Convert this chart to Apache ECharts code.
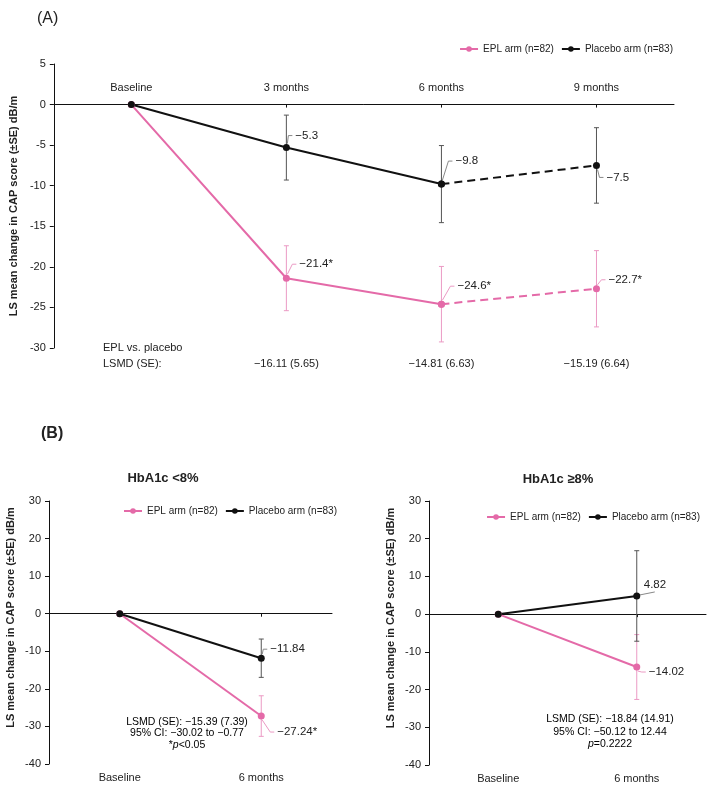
<!DOCTYPE html>
<html>
<head>
<meta charset="utf-8">
<script src="https://cdn.jsdelivr.net/npm/echarts@6/dist/echarts.min.js"></script>
<style>
  html, body { margin: 0; padding: 0; background: #fff; }
  #chart { width: 709px; height: 785px; }
</style>
</head>
<body>
<div id="chart"></div>
<script>
// ---- data (A) ----
const categoriesA = ['Baseline', '3 months', '6 months', '9 months']
const eplA = [0, -21.4, -24.6, -22.7]
const eplSeA = [null, 4.0, 4.65, 4.7]
const eplLabelsA = [null, '\u221221.4*', '\u221224.6*', '\u221222.7*']
const placeboA = [0, -5.3, -9.8, -7.5]
const placeboSeA = [null, 4.0, 4.75, 4.65]
const placeboLabelsA = [null, '\u22125.3', '\u22129.8', '\u22127.5']
const lsmdA = [null, '\u221216.11 (5.65)', '\u221214.81 (6.63)', '\u221215.19 (6.64)']
const dashedFrom = 2 // 6 -> 9 months drawn dashed

// ---- data (B) ----
const categoriesB = ['Baseline', '6 months']
const eplLow = [0, -27.24]
const eplSeLow = [null, 5.4]
const eplLabelsLow = [null, '\u221227.24*']
const placeboLow = [0, -11.84]
const placeboSeLow = [null, 5.1]
const placeboLabelsLow = [null, '\u221211.84']
const eplHigh = [0, -14.02]
const eplSeHigh = [null, 8.6]
const eplLabelsHigh = [null, '\u221214.02']
const placeboHigh = [0, 4.82]
const placeboSeHigh = [null, 12.0]
const placeboLabelsHigh = [null, '4.82']

const EPL = 'EPL arm (n=82)'
const PLACEBO = 'Placebo arm (n=83)'
const PINK = '#e46aa8'
const PINK_LIGHT = '#eb9ac4'
const BLACK = '#111'
const FONT = 'Liberation Sans, Arial, sans-serif'
const yName = 'LS mean change in CAP score (\u00b1SE) dB/m'

// label offsets (style only)
const offA = { epl: [null, [13, -14], [16, -18], [12, -9]], placebo: [null, [9, -12], [14, -23], [10, 12]] }
const offLow = { epl: [null, [16, 16]], placebo: [null, [9, -9]] }
const offHigh = { epl: [null, [12, 5]], placebo: [null, [7, -11]] }

const chart = echarts.init(document.getElementById('chart'))

function errorBars(color, leaderColor, labels, offs) {
  return function (params, api) {
    const i = api.value(0), m = api.value(1), se = api.value(2)
    const p = api.coord([i, m])
    const hi = api.coord([i, m + se])
    const lo = api.coord([i, m - se])
    const dx = offs[i][0], dy = offs[i][1]
    const sy = dy < 0 ? -1 : 1
    const bar = { stroke: color, lineWidth: 1 }
    // short leader lines; when the label sits right above the point, run it under the text
    const pts = dx < 8
      ? [[p[0] + 3, p[1] - 1], [p[0] + dx + 11, p[1] + dy + 7]]
      : [[p[0] + 1, p[1] + sy * 4], [p[0] + dx - 7, p[1] + dy], [p[0] + dx - 3, p[1] + dy]]
    return {
      type: 'group',
      children: [
        { type: 'line', shape: { x1: p[0], y1: hi[1], x2: p[0], y2: lo[1] }, style: bar },
        { type: 'line', shape: { x1: p[0] - 2.5, y1: hi[1], x2: p[0] + 2.5, y2: hi[1] }, style: bar },
        { type: 'line', shape: { x1: p[0] - 2.5, y1: lo[1], x2: p[0] + 2.5, y2: lo[1] }, style: bar },
        { type: 'polyline', shape: { points: pts }, style: { stroke: leaderColor, lineWidth: 1, fill: null } },
        {
          type: 'text', x: p[0] + dx, y: p[1] + dy,
          style: { text: labels[i], fill: '#222', fontSize: 11.5, fontFamily: FONT, align: 'left', verticalAlign: 'middle' }
        }
      ]
    }
  }
}

function errData(vals, ses) {
  return vals.map((v, i) => [i, v, ses[i]]).filter(d => d[2] != null)
}

function lineSeries(name, color, data, xi, yi, dashed) {
  return {
    name, type: 'line', xAxisIndex: xi, yAxisIndex: yi, data,
    symbol: 'circle', symbolSize: 7, showSymbol: true,
    lineStyle: { color, width: 2, type: dashed ? [8, 5] : 'solid' },
    itemStyle: { color },
    emphasis: { disabled: true }, z: 3
  }
}

function customSeries(name, xi, yi, data, render) {
  return { name, type: 'custom', xAxisIndex: xi, yAxisIndex: yi, data, renderItem: render, clip: false, z: 2, silent: true }
}

const axisLine = { show: true, lineStyle: { color: BLACK, width: 1 } }
const tickLabel = { color: '#222', fontSize: 11, fontFamily: FONT }

function yAxis(grid, min, max, interval, shift) {
  return {
    type: 'value', gridIndex: grid, min, max, interval,
    axisLine, axisTick: { show: true, length: 4, lineStyle: { color: BLACK } },
    axisLabel: Object.assign({ margin: 8 }, tickLabel),
    splitLine: { show: false },
    name: yName, nameLocation: 'middle', nameGap: 33,
    nameTextStyle: { fontSize: 11, fontWeight: 'bold', fontFamily: FONT, color: '#222', padding: [0, 0, 0, shift] }
  }
}

// axis line drawn on y = 0, labels carried by a twin axis without a line
function zeroAxis(grid, cats) {
  return {
    type: 'category', gridIndex: grid, data: cats, position: 'bottom',
    axisLine: Object.assign({ onZero: true }, axisLine),
    axisTick: { show: true, alignWithLabel: true, length: 3, lineStyle: { color: BLACK } },
    axisLabel: { show: false }
  }
}
function labelAxis(grid, cats, position, margin, inside) {
  return {
    type: 'category', gridIndex: grid, data: cats, position,
    axisLine: { show: false, onZero: false }, axisTick: { show: false },
    axisLabel: Object.assign({ margin, inside }, tickLabel)
  }
}

const legendBase = {
  data: [EPL, PLACEBO], itemWidth: 18, itemHeight: 7, itemGap: 7,
  textStyle: { fontSize: 10, fontFamily: FONT, color: '#222' }, selectedMode: false
}

const option = {
  animation: false,
  backgroundColor: '#fff',
  title: [
    { text: '(A)', left: 32, top: 6, textStyle: { fontSize: 16, fontWeight: 'normal', fontFamily: FONT, color: '#222' } },
    { text: '(B)', left: 36, top: 421, textStyle: { fontSize: 16, fontWeight: 'bold', fontFamily: FONT, color: '#222' } },
    { text: 'HbA1c <8%', left: 158, textAlign: 'center', top: 467, textStyle: { fontSize: 13, fontWeight: 'bold', fontFamily: FONT, color: '#222' } },
    { text: 'HbA1c \u22658%', left: 553, textAlign: 'center', top: 468, textStyle: { fontSize: 13, fontWeight: 'bold', fontFamily: FONT, color: '#222' } }
  ],
  legend: [
    Object.assign({ right: 31, top: 39 }, legendBase),
    Object.assign({ left: 118, top: 501 }, legendBase),
    Object.assign({ right: 4, top: 507 }, legendBase)
  ],
  grid: [
    { left: 50, top: 64, width: 624, height: 284 },
    { left: 49, top: 501, width: 283, height: 263 },
    { left: 429, top: 501, width: 277, height: 264 }
  ],
  xAxis: [
    zeroAxis(0, categoriesA),
    labelAxis(0, categoriesA, 'top', 18, true),
    zeroAxis(1, categoriesB),
    labelAxis(1, categoriesB, 'bottom', 8, false),
    zeroAxis(2, categoriesB),
    labelAxis(2, categoriesB, 'bottom', 8, false)
  ],
  yAxis: [yAxis(0, -30, 5, 5, 0), yAxis(1, -40, 30, 10, 30), yAxis(2, -40, 30, 10, 30)],
  graphic: [
    { type: 'text', left: 103, top: 342, style: { text: 'EPL vs. placebo', fontSize: 11, fontFamily: FONT, fill: '#222' } },
    { type: 'text', left: 103, top: 358, style: { text: 'LSMD (SE):', fontSize: 11, fontFamily: FONT, fill: '#222' } },
    {
      type: 'text', x: 187, y: 716,
      style: {
        text: '{n|LSMD (SE): \u221215.39 (7.39)}\n{n|95% CI: \u221230.02 to \u22120.77}\n{n|*}{i|p}{n|<0.05}',
        align: 'center', verticalAlign: 'top', lineHeight: 11.5,
        rich: {
          n: { fontSize: 10.5, fontFamily: FONT, color: '#222', lineHeight: 11.5 },
          i: { fontSize: 10.5, fontFamily: FONT, color: '#222', fontStyle: 'italic', lineHeight: 11.5 }
        }
      }
    },
    {
      type: 'text', x: 610, y: 713,
      style: {
        text: '{n|LSMD (SE): \u221218.84 (14.91)}\n{n|95% CI: \u221250.12 to 12.44}\n{i|p}{n|=0.2222}',
        align: 'center', verticalAlign: 'top', lineHeight: 12.5,
        rich: {
          n: { fontSize: 10.5, fontFamily: FONT, color: '#222', lineHeight: 12.5 },
          i: { fontSize: 10.5, fontFamily: FONT, color: '#222', fontStyle: 'italic', lineHeight: 12.5 }
        }
      }
    }
  ],
  series: [
    // (A)
    lineSeries(EPL, PINK, eplA.map((v, i) => (i <= dashedFrom ? v : null)), 0, 0, false),
    lineSeries(EPL, PINK, eplA.map((v, i) => (i >= dashedFrom ? v : null)), 0, 0, true),
    lineSeries(PLACEBO, BLACK, placeboA.map((v, i) => (i <= dashedFrom ? v : null)), 0, 0, false),
    lineSeries(PLACEBO, BLACK, placeboA.map((v, i) => (i >= dashedFrom ? v : null)), 0, 0, true),
    customSeries('epl-err-a', 0, 0, errData(eplA, eplSeA), errorBars(PINK_LIGHT, PINK_LIGHT, eplLabelsA, offA.epl)),
    customSeries('pla-err-a', 0, 0, errData(placeboA, placeboSeA), errorBars('#555', '#888', placeboLabelsA, offA.placebo)),
    customSeries('lsmd-a', 0, 0, lsmdA.map((t, i) => [i, -30]).filter((d, i) => lsmdA[i] != null), function (params, api) {
      const i = api.value(0)
      const p = api.coord([i, -30])
      return {
        type: 'text', x: p[0], y: p[1] + 16,
        style: { text: lsmdA[i], fontSize: 11, fontFamily: FONT, fill: '#222', align: 'center', verticalAlign: 'middle' }
      }
    }),
    // (B) HbA1c <8%
    lineSeries(EPL, PINK, eplLow, 2, 1, false),
    lineSeries(PLACEBO, BLACK, placeboLow, 2, 1, false),
    customSeries('epl-err-low', 2, 1, errData(eplLow, eplSeLow), errorBars(PINK_LIGHT, PINK_LIGHT, eplLabelsLow, offLow.epl)),
    customSeries('pla-err-low', 2, 1, errData(placeboLow, placeboSeLow), errorBars('#555', '#888', placeboLabelsLow, offLow.placebo)),
    // (B) HbA1c >=8%
    lineSeries(EPL, PINK, eplHigh, 4, 2, false),
    lineSeries(PLACEBO, BLACK, placeboHigh, 4, 2, false),
    customSeries('epl-err-high', 4, 2, errData(eplHigh, eplSeHigh), errorBars(PINK_LIGHT, PINK_LIGHT, eplLabelsHigh, offHigh.epl)),
    customSeries('pla-err-high', 4, 2, errData(placeboHigh, placeboSeHigh), errorBars('#555', '#888', placeboLabelsHigh, offHigh.placebo))
  ]
}

chart.setOption(option)
</script>
</body>
</html>
